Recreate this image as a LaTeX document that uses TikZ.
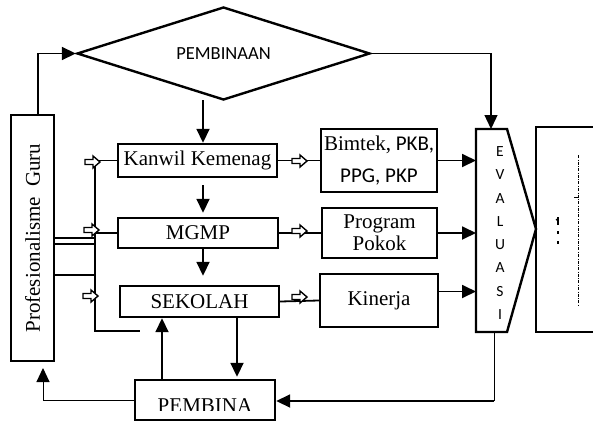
\documentclass[tikz,border=0pt]{standalone}
\usepackage{fontspec}
\setmainfont{Liberation Serif}
\newfontfamily\calib{Carlito}
\usetikzlibrary{shapes.geometric,arrows.meta}
\begin{document}
\begin{tikzpicture}[x=1pt,y=-1pt,
 box/.style={draw, line width=2.4pt, inner sep=0pt, align=center, font=\fontsize{21}{22}\selectfont},
 arr/.style={line width=1.8pt, -{Triangle[length=14pt,width=13pt]}},
 ln/.style={line width=1.8pt},
 thinln/.style={line width=1pt},
 harrow/.pic={\draw[line width=1.4pt, fill=white] (-15,-2.5) -- (-7,-2.5) -- (-7,-6) -- (0,0) -- (-7,6) -- (-7,2.5) -- (-15,2.5) -- cycle;}
]
\useasboundingbox (0,0) rectangle (593,423);

% nodes
\node[box, minimum width=43pt, minimum height=246pt] (prof) at (32.5,238) {\rotatebox{90}{Profesionalisme\ \ Guru}};
\node[diamond, draw, line width=2.4pt, aspect=3, minimum width=293pt, minimum height=93pt, inner sep=0pt,
      font=\calib\fontsize{18.5}{20}\selectfont] (dia) at (223.5,53.5) {PEMBINAAN};
\node[box, minimum width=159pt, minimum height=33pt] (kanwil) at (197.5,160.5) {Kanwil Kemenag};
\node[box, minimum width=160pt, minimum height=30pt] (mgmp) at (198,233) {MGMP};
\node[box, minimum width=159pt, minimum height=31pt] (sekolah) at (199.5,301.5) {SEKOLAH};
\node[box, minimum width=140pt, minimum height=40pt] (pembina) at (205,400) {};
\begin{scope}
\clip (136,385) rectangle (274,410);
\node[font=\fontsize{21}{22}\selectfont, anchor=base] (pembinalabel) at (205,412) {PEMBINA};
\end{scope}
\node[box, minimum width=116pt, minimum height=63pt, font=\fontsize{21}{32}\selectfont] (bimtek) at (379,160.5) {Bimtek,{\calib\ PKB,}\\{\calib PPG, PKP}};
\node[box, minimum width=115pt, minimum height=50pt] (program) at (379.5,233) {Program\\Pokok};
\node[box, minimum width=118pt, minimum height=53pt] (kinerja) at (379,300.5) {Kinerja};

% EVALUASI shape
\coordinate (e1) at (476,129);
\coordinate (e2) at (507,129);
\coordinate (etip) at (536,229);
\coordinate (e3) at (507,332);
\coordinate (e4) at (476,332);
\draw[line width=2.4pt] (e1) -- (e2) -- (etip) -- (e3) -- (e4) -- cycle;
\node[font=\calib\fontsize{15.5}{23.3}\selectfont, align=center, inner sep=0pt] (evtext) at (500,233) {E\\V\\A\\L\\U\\A\\S\\I};

% right box (cut off)
\coordinate (r1) at (593,127);
\coordinate (r2) at (536,127);
\coordinate (r3) at (536,332);
\coordinate (r4) at (593,332);
\draw[line width=2.4pt] (r1) -- (r2) -- (r3) -- (r4);
\draw[line width=0.5pt, dash pattern=on 3pt off 1.5pt on 0.6pt off 1.5pt] (578,155) -- (578,305);
\draw[line width=0.7pt] (574,197) -- (578,197);
\draw[line width=2.6pt] (558,217) -- (558,225);
\draw[line width=1.5pt] (556,220) -- (558,219);
\draw[line width=2.6pt] (558,231) -- (558,234);
\draw[line width=2.6pt] (558,241) -- (558,244);

% connectors
\coordinate (ptop) at (38,115);
\draw[arr] (ptop) |- (dia.west);
\coordinate (evtop) at (491,129);
\draw[arr, line width=1.3pt] (dia.east) -| (evtop);
\coordinate (dk) at (203,100);
\draw[arr] (dk) -- (dk |- kanwil.north);
\coordinate (km) at (203,185);
\draw[arr] (km) -- ([yshift=4pt]km |- mgmp.north);
\coordinate (ms) at (203,248);
\draw[arr] (ms) -- ([yshift=9pt]ms |- sekolah.north);
\coordinate (sp) at (237,317);
\draw[arr] (sp) -- ([yshift=2pt]sp |- pembina.north);
\coordinate (ps) at (162,380);
\draw[arr] (ps) -- (ps |- sekolah.south);
\coordinate (pl) at (43,368);
\draw[thinln, -{Triangle[length=14pt,width=13pt]}] (pembina.west) -| (pl);
\coordinate (evbot) at (494,332);
\coordinate (evcorner) at (494,401);
\draw[thinln] (evbot) -- (evcorner);
\draw[arr] (evcorner) -- (evcorner -| pembina.east);

% left bus
\coordinate (bt) at (95,162);
\coordinate (bb) at (95,331);
\coordinate (be) at (140,331);
\draw[ln] (bt) -- (bb) -- (be);
\draw[ln] (kanwil.west) -- (kanwil.west -| bt);
\draw[ln] (mgmp.west) -- (mgmp.west -| bt);
\draw[ln] (prof.east) -- (prof.east -| bt);
\draw[ln] ([yshift=-6pt]prof.east) -- ([yshift=-6pt]prof.east -| bt);
\draw[ln] ([yshift=-37pt]prof.east) -- ([yshift=-37pt]prof.east -| bt);
\pic at (100,162) {harrow};
\pic at (99,230) {harrow};
\pic at (98,296) {harrow};

% right links
\draw[ln] (kanwil.east) -- (bimtek.west);
\draw[ln] (mgmp.east) -- (program.west);
\draw[ln] (sekolah.east) -- (kinerja.west);
\pic at (307,161) {harrow};
\pic at (307,231) {harrow};
\pic at (307,297) {harrow};

% to evaluasi
\draw[arr] (bimtek.east) -- (bimtek.east -| e1);
\draw[arr] (program.east) -- (program.east -| e1);
\draw[arr] ([yshift=9pt]kinerja.east) -- ([yshift=9pt]kinerja.east -| e1);
\end{tikzpicture}
\end{document}
